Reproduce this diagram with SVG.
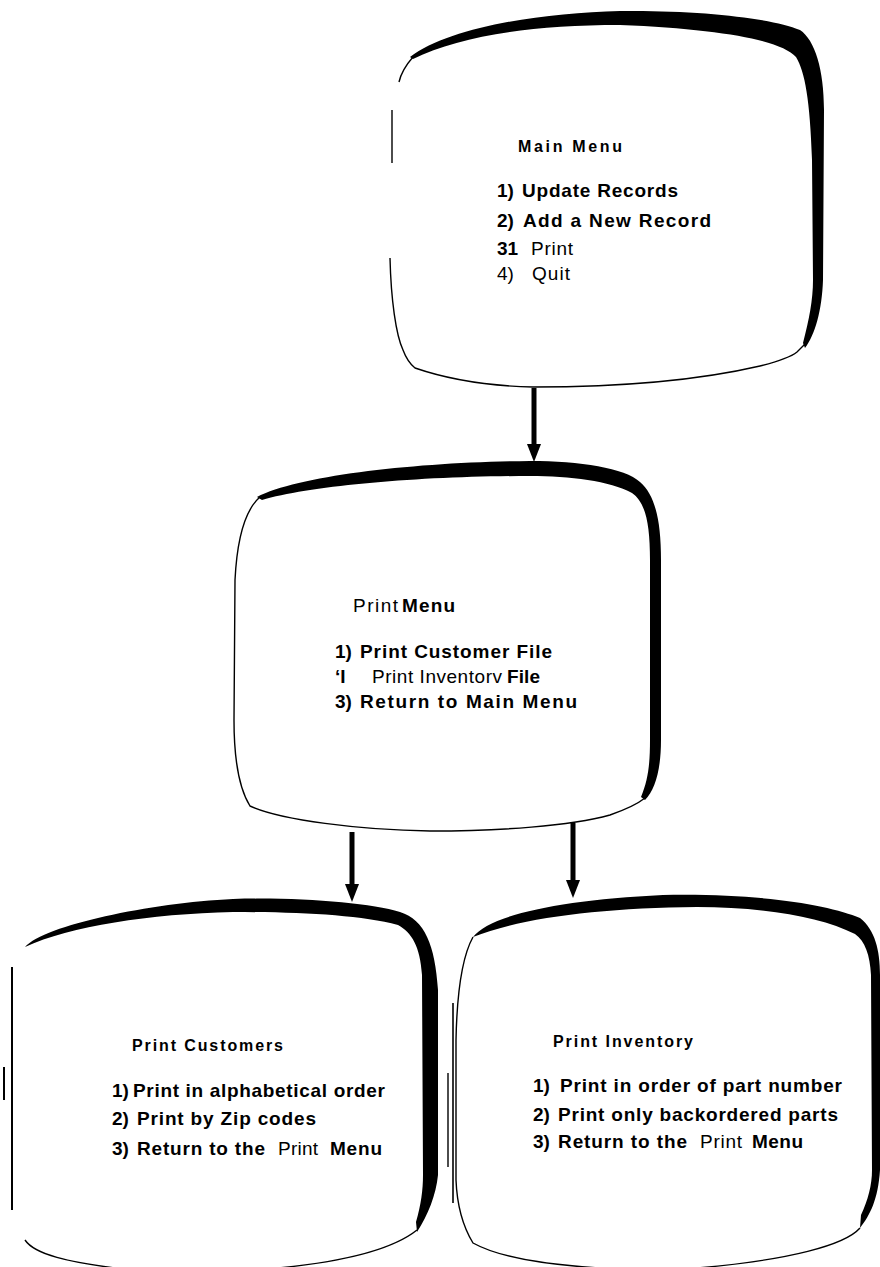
<svg xmlns="http://www.w3.org/2000/svg" width="880" height="1267" viewBox="0 0 880 1267">
<style>
.band{fill:#000}
.thin{fill:none;stroke:#000;stroke-width:1.4}
.vline{stroke:#000;fill:none}
.conn{stroke:#000;stroke-width:5;fill:none}
text{font-family:"Liberation Sans",Arial,Helvetica,sans-serif;fill:#000}
.b{font-weight:bold}
.r{font-weight:normal}
.t{font-size:16px;font-weight:bold}
.i{font-size:19px}
</style>
<defs>
<marker id="ah" markerUnits="userSpaceOnUse" markerWidth="18" markerHeight="14" viewBox="0 0 18 14" refX="2" refY="7" orient="auto">
<path d="M0,0 L18,7 L0,14 Z" fill="#000"/>
</marker>
</defs>
<rect width="880" height="1267" fill="#fff"/>

<g id="main-menu">
<path class="band" d="M410,57 C450,27 540,13 620,11 C700,10 770,18 800,30 C815,40 824,70 824,110 L823,280 C822,310 815,335 805,348 L803,343 C809,320 813,300 813,280 L812,160 C810,100 805,72 796,57 C780,40 720,29 620,25 C530,25 460,36 413,59 Z"/>
<path class="thin" d="M413,57 C406,65 401,73 399,82"/>
<path class="thin" d="M392,110 L392,163"/>
<path class="thin" d="M390,258 C391,300 396,335 403,350 C406,358 410,364 415,368 C450,380 490,386 533,387 C620,387 700,380 760,366 C780,361 792,356 797,352 C801,348 803,346 805,344"/>
<text class="t" x="518" y="152" textLength="104" lengthAdjust="spacing">Main Menu</text>
<text class="i b" x="497" y="197">1)</text>
<text class="i b" x="522" y="197" textLength="156" lengthAdjust="spacing">Update Records</text>
<text class="i b" x="497" y="227">2)</text>
<text class="i b" x="523" y="227" textLength="188" lengthAdjust="spacing">Add a New Record</text>
<text class="i b" x="497" y="255">31</text>
<text class="i r" x="531" y="255" textLength="42" lengthAdjust="spacing">Print</text>
<text class="i r" x="497" y="280">4)</text>
<text class="i r" x="532" y="280" textLength="38" lengthAdjust="spacing">Quit</text>
</g>

<g id="print-menu">
<path class="band" d="M257,497 C300,475 420,462 530,461 C580,461 625,468 640,482 C655,495 661,520 661,560 L661,740 C661,770 655,790 645,800 L641,797 C648,780 650,765 650,740 L650,560 C650,522 645,502 632,493 C610,481 570,476 530,476 C420,476 310,486 262,500 Z"/>
<path class="thin" d="M260,497 C245,510 237,540 235,580 L234,720 C234,760 240,790 250,806 C280,820 360,830 430,831 C500,831 570,826 610,815 C630,808 640,802 645,798"/>
<text class="i r" x="353" y="612" textLength="45" lengthAdjust="spacing">Print</text>
<text class="i b" x="402" y="612" textLength="53" lengthAdjust="spacing">Menu</text>
<text class="i b" x="335" y="658">1)</text>
<text class="i b" x="360" y="658" textLength="192" lengthAdjust="spacing">Print Customer File</text>
<text class="i b" x="335" y="683">‘I</text>
<text class="i r" x="372" y="683" textLength="130" lengthAdjust="spacing">Print Inventorv</text>
<text class="i b" x="507" y="683" textLength="33" lengthAdjust="spacing">File</text>
<text class="i b" x="335" y="708">3)</text>
<text class="i b" x="360" y="708" textLength="217" lengthAdjust="spacing">Return to Main Menu</text>
</g>

<g id="print-customers">
<path class="band" d="M25,947 C45,925 150,903 233,899 C300,897 370,903 400,912 C425,920 435,945 438,990 L438,1175 C436,1195 428,1215 417,1232 L416,1222 C421,1205 423,1190 423,1175 L422,975 C420,946 412,933 398,925 C360,915 300,912 233,912 C150,914 70,926 25,947 Z"/>
<path class="thin" d="M25,1240 C35,1255 70,1262 115,1268"/>
<path class="thin" d="M278,1268 C340,1262 392,1250 417,1230"/>
<line class="vline" x1="12" y1="967" x2="12" y2="1210" stroke-width="2"/>
<line class="vline" x1="4" y1="1067" x2="4" y2="1100" stroke-width="2"/>
<text class="t" x="132" y="1051" textLength="151" lengthAdjust="spacing">Print Customers</text>
<text class="i b" x="112" y="1097">1)</text>
<text class="i b" x="133" y="1097" textLength="252" lengthAdjust="spacing">Print in alphabetical order</text>
<text class="i b" x="112" y="1125">2)</text>
<text class="i b" x="137" y="1125" textLength="179" lengthAdjust="spacing">Print by Zip codes</text>
<text class="i b" x="112" y="1155">3)</text>
<text class="i b" x="137" y="1155" textLength="128" lengthAdjust="spacing">Return to the</text>
<text class="i r" x="278" y="1155" textLength="40" lengthAdjust="spacing">Print</text>
<text class="i b" x="330" y="1155" textLength="52" lengthAdjust="spacing">Menu</text>
</g>

<g id="print-inventory">
<path class="band" d="M473,937 C490,915 560,900 663,895 C760,893 830,905 860,918 C875,930 880,950 880,975 L880,1170 C878,1200 870,1215 860,1228 L861,1215 C868,1200 872,1185 872,1170 L871,975 C870,955 865,941 855,934 C820,916 760,907 697,907 C600,908 520,918 473,937 Z"/>
<path class="thin" d="M473,937 C463,955 457,990 456,1040 L456,1180 C457,1205 462,1225 473,1243 C500,1258 550,1265 600,1268"/>
<path class="thin" d="M860,1228 C845,1245 790,1260 697,1268"/>
<line class="vline" x1="453" y1="1003" x2="453" y2="1203" stroke-width="1.6"/>
<line class="vline" x1="448" y1="1073" x2="448" y2="1167" stroke-width="1.4"/>
<text class="t" x="553" y="1047" textLength="140" lengthAdjust="spacing">Print Inventory</text>
<text class="i b" x="533" y="1092">1)</text>
<text class="i b" x="560" y="1092" textLength="282" lengthAdjust="spacing">Print in order of part number</text>
<text class="i b" x="533" y="1121">2)</text>
<text class="i b" x="558" y="1121" textLength="280" lengthAdjust="spacing">Print only backordered parts</text>
<text class="i b" x="533" y="1148">3)</text>
<text class="i b" x="558" y="1148" textLength="129" lengthAdjust="spacing">Return to the</text>
<text class="i r" x="700" y="1148" textLength="42" lengthAdjust="spacing">Print</text>
<text class="i b" x="752" y="1148" textLength="51" lengthAdjust="spacing">Menu</text>
</g>

<g id="connectors">
<line class="conn" x1="534" y1="388" x2="534" y2="446" marker-end="url(#ah)"/>
<line class="conn" x1="352" y1="832" x2="352" y2="886" marker-end="url(#ah)"/>
<line class="conn" x1="573" y1="823" x2="573" y2="882" marker-end="url(#ah)"/>
</g>
</svg>
